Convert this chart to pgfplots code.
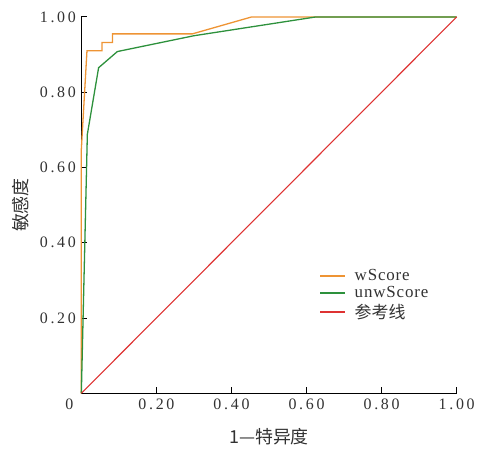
\documentclass[border=0pt]{standalone}
\usepackage{fontspec}
\setmainfont{Liberation Serif}
\newfontfamily\tickfont[LetterSpace=17]{Liberation Serif}
\newfontfamily\legfont[LetterSpace=5]{Liberation Serif}
\newfontfamily\cjk{Noto Sans CJK SC}
\usepackage{pgfplots}
\pgfplotsset{compat=1.18}
\definecolor{corange}{RGB}{238,148,52}
\definecolor{cgreen}{RGB}{45,145,60}
\definecolor{cred}{RGB}{222,50,50}
\definecolor{ctext}{RGB}{50,50,50}
\begin{document}
\begin{tikzpicture}
\begin{axis}[
  scale only axis,
  width=377bp, height=378bp,
  xmin=0, xmax=1, ymin=0, ymax=1,
  axis lines=left,
  axis line style={line width=1bp, black, -},
  tick style={line width=0.9bp, black},
  tick align=inside,
  major tick length=6bp,
  xtick={0,0.2,0.4,0.6,0.8,1.0},
  xticklabels={\makebox[0pt][r]{0\hspace{8bp}},0.20,0.40,0.60,0.80,1.00},
  ytick={0.2,0.4,0.6,0.8,1.0},
  yticklabels={0.20,0.40,0.60,0.80,1.00},
  tick label style={font=\fontsize{16bp}{18bp}\tickfont, text=ctext},
  xticklabel style={yshift=-2bp},
  yticklabel style={xshift=-2bp},
  xlabel={\cjk 1—特异度},
  ylabel={\cjk 敏感度},
  label style={font=\fontsize{18bp}{20bp}\selectfont, text=ctext},
  xlabel style={at={(axis description cs:0.5,0)}, anchor=center, yshift=-43.5bp},
  ylabel style={at={(axis description cs:-0.162,0.5)}, anchor=center},
  clip=false,
  legend cell align=left,
  legend style={at={(axis cs:0.625,0.34)}, anchor=north west, draw=none, fill=none,
    font=\fontsize{17bp}{19bp}\legfont, row sep=0.5bp,
    /tikz/every odd column/.append style={column sep=7bp}},
  legend image code/.code={\draw[#1, line width=1.8bp] (0bp,0bp) -- (25bp,0bp);},
]
\addplot[corange, line width=1.3bp] coordinates {
 (0,0) (0,0.648) (0.015,0.910) (0.055,0.910) (0.055,0.932) (0.083,0.932) (0.083,0.955) (0.296,0.955) (0.454,1) (1,1)};
\addlegendentry{\color{ctext}wScore}
\addplot[cgreen, line width=1.3bp] coordinates {
 (0,0) (0.016,0.688) (0.046,0.865) (0.096,0.908) (0.30,0.950) (0.625,1) (1,1)};
\addlegendentry{\color{ctext}unwScore}
\addplot[cred, line width=1.1bp] coordinates {(0,0) (1,1)};
\addlegendentry{\color{ctext}\cjk 参考线}
\end{axis}
\path[use as bounding box] (-81.7bp,-50bp) rectangle (396.3bp,395bp);
\end{tikzpicture}
\end{document}
